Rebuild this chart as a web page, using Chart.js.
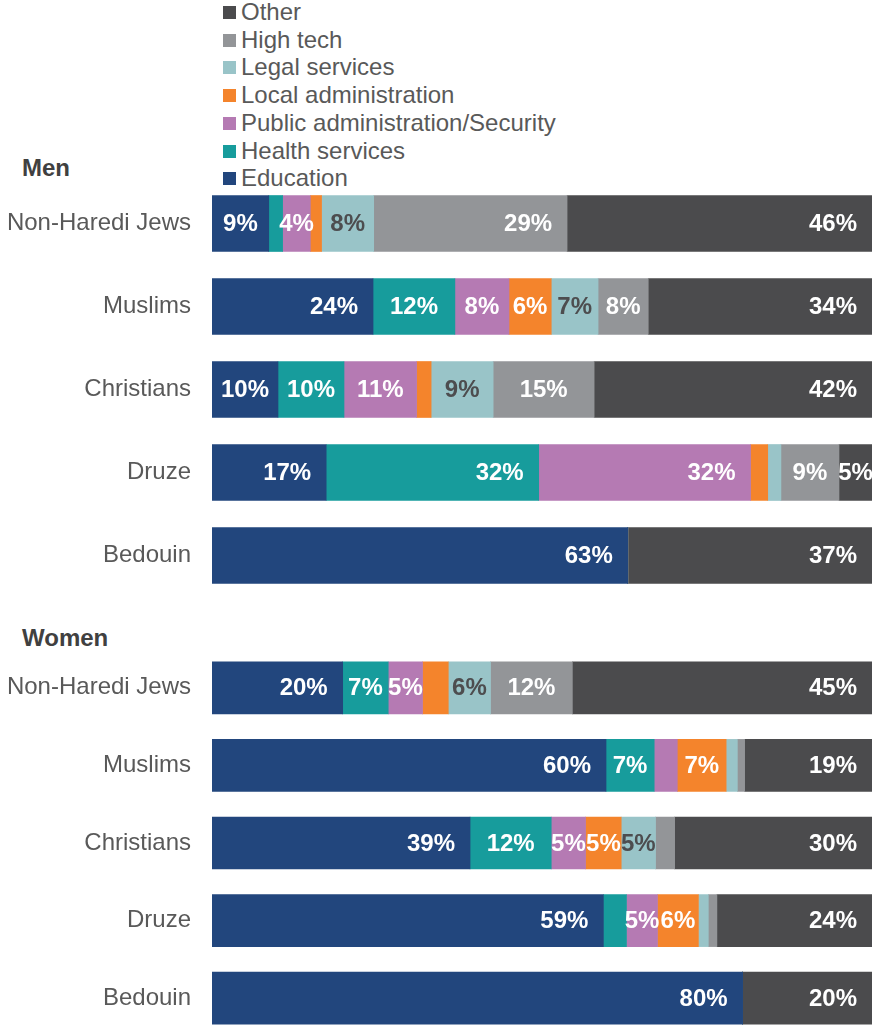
<!DOCTYPE html>
<html>
<head>
<meta charset="utf-8">
<script src="https://cdn.jsdelivr.net/npm/chart.js@4"></script>
<style>
  html, body { margin: 0; padding: 0; background: #fff; overflow: hidden; }
  body { width: 872px; height: 1025px; position: relative; font-family: "Liberation Sans", Arial, sans-serif; }
  .box { position: absolute; left: 0; width: 872px; }
  .head { position: absolute; left: 22px; font-weight: bold; font-size: 24px; color: #404040; line-height: 26px; }
  #legend { position: absolute; left: 223px; top: 0; }
  .leg { position: absolute; left: 0; white-space: nowrap; font-size: 24px; color: #595959; line-height: 26px; }
  .leg span { display: inline-block; width: 13px; height: 13px; margin-right: 5px; vertical-align: 1px; }
</style>
</head>
<body>
<div id="legend"></div>
<div class="head" style="top:155px">Men</div>
<div class="head" style="top:625px">Women</div>
<div class="box" style="top:182px;height:415px"><canvas id="menChart"></canvas></div>
<div class="box" style="top:649px;height:388px"><canvas id="womenChart"></canvas></div>
<script>
// Categories and sectors
const groups = ['Non-Haredi Jews', 'Muslims', 'Christians', 'Druze', 'Bedouin'];
const sectors = ['Education', 'Health services', 'Public administration/Security',
  'Local administration', 'Legal services', 'High tech', 'Other'];
const sectorColors = ['#22467d', '#179c9c', '#b57ab3', '#f4842c', '#99c4c8', '#939598', '#4b4b4d'];

// Men, share of employed (%), one array per sector
const menEducation = [8.6, 24.4, 10.0, 17.3, 63.0];
const menHealth = [2.1, 12.4, 10.0, 32.2, 0];
const menPublic = [4.2, 8.2, 11.0, 32.1, 0];
const menLocal = [1.7, 6.4, 2.2, 2.6, 0];
const menLegal = [7.9, 7.1, 9.4, 2.0, 0];
const menHighTech = [29.3, 7.6, 15.3, 8.8, 0];
const menOther = [46.2, 33.9, 42.1, 5.0, 37.0];

// Women
const womenEducation = [19.8, 59.7, 39.1, 59.3, 80.4];
const womenHealth = [6.9, 7.3, 12.3, 3.5, 0];
const womenPublic = [5.2, 3.5, 5.2, 4.7, 0];
const womenLocal = [3.9, 7.4, 5.4, 6.2, 0];
const womenLegal = [6.4, 1.7, 5.2, 1.5, 0];
const womenHighTech = [12.4, 1.1, 2.9, 1.3, 0];
const womenOther = [45.4, 19.3, 29.9, 23.5, 19.6];

const menSeries = [menEducation, menHealth, menPublic, menLocal, menLegal, menHighTech, menOther];
const womenSeries = [womenEducation, womenHealth, womenPublic, womenLocal, womenLegal, womenHighTech, womenOther];

const FONT = '"Liberation Sans", Arial, sans-serif';

// legend, reversed like the original (Other on top)
const legendEl = document.getElementById('legend');
sectors.slice().reverse().forEach((name, i) => {
  const idx = sectors.length - 1 - i;
  const row = document.createElement('div');
  row.className = 'leg';
  row.style.top = (i * 27.7 - 1) + 'px';
  row.innerHTML = '<span style="background:' + sectorColors[idx] + '"></span>' + name;
  legendEl.appendChild(row);
});

// value labels inside segments
const segmentLabels = {
  id: 'segmentLabels',
  afterDatasetsDraw(chart) {
    const ctx = chart.ctx;
    ctx.save();
    ctx.font = 'bold 24px ' + FONT;
    ctx.textBaseline = 'middle';
    chart.data.datasets.forEach((ds, di) => {
      const meta = chart.getDatasetMeta(di);
      meta.data.forEach((bar, i) => {
        const v = ds.data[i];
        if (v < 4) return;
        const text = Math.round(v) + '%';
        const w = bar.x - bar.base;
        ctx.fillStyle = di === 4 ? '#4d4d4f' : '#ffffff';
        if (w >= 110) {
          ctx.textAlign = 'right';
          ctx.fillText(text, bar.x - 15, bar.y + 1);
        } else {
          ctx.textAlign = 'center';
          ctx.fillText(text, (bar.x + bar.base) / 2, bar.y + 1);
        }
      });
    });
    ctx.restore();
  }
};

function makeChart(id, series, thickness) {
  const ctx = document.getElementById(id).getContext('2d');
  return new Chart(ctx, {
    type: 'bar',
    data: {
      labels: groups,
      datasets: series.map((values, i) => ({
        label: sectors[i],
        data: values,
        backgroundColor: sectorColors[i],
        borderWidth: 0,
        barThickness: thickness,
      })),
    },
    options: {
      indexAxis: 'y',
      responsive: true,
      maintainAspectRatio: false,
      animation: false,
      layout: { padding: 0 },
      plugins: {
        legend: { display: false },
        tooltip: { enabled: false },
      },
      scales: {
        x: {
          stacked: true,
          display: false,
          min: 0,
          max: 100,
        },
        y: {
          stacked: true,
          grid: { display: false, drawTicks: false },
          border: { display: false },
          ticks: {
            color: '#595959',
            padding: 21,
            font: { family: FONT, size: 24 },
          },
          afterFit(scale) {
            scale.width = 212;
            // no extra room above/below the categories
            scale.paddingTop = 0;
            scale.paddingBottom = 0;
          },
        },
      },
    },
    plugins: [segmentLabels],
  });
}

makeChart('menChart', menSeries, 56);
makeChart('womenChart', womenSeries, 52);
</script>
</body>
</html>
